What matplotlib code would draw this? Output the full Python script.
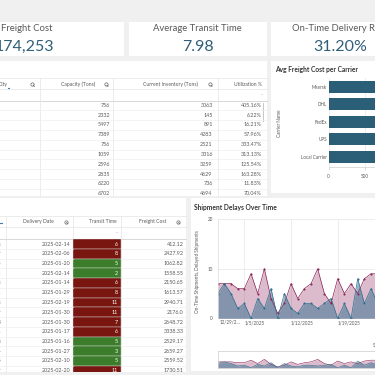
import matplotlib
matplotlib.use("Agg")
import matplotlib.pyplot as plt
import matplotlib.transforms as mtransforms
from matplotlib.patches import Rectangle
from matplotlib.lines import Line2D
import pandas as pd

plt.rcParams['font.family'] = ['Lato', 'DejaVu Sans']

# ---- data ----
kpi_titles = ['Total Freight Cost', 'Average Transit Time', 'On-Time Delivery Rate']
kpi_values = ['174,253', '7.98', '31.20%']

wh_capacity = [756, 2332, 5497, 7389, 756, 1059, 2596, 2835, 6220, 6702]
wh_inventory = [3063, 145, 891, 4283, 2521, 3316, 3259, 4629, 736, 4694]
wh_util = ['405.16%', '6.22%', '16.21%', '57.96%', '333.47%', '313.13%',
           '125.54%', '163.28%', '11.83%', '70.04%']

carriers = ['Maersk', 'DHL', 'FedEx', 'UPS', 'Local Carrier']
carrier_cost = [2010, 2080, 1990, 2050, 2020]
cost_ticks = [0, 500]

ship_ids = ['SHP1038', 'SHP1049', 'SHP1055', 'SHP1062', 'SHP1078', 'SHP1081', 'SHP1098',
            'SHP1109', 'SHP1113', 'SHP1121', 'SHP1138', 'SHP1144', 'SHP1155', 'SHP1169']
ship_dates = ['2025-02-14', '2025-02-06', '2025-01-20', '2025-02-14', '2025-01-14',
              '2025-01-29', '2025-02-19', '2025-01-30', '2025-01-30', '2025-01-17',
              '2025-01-16', '2025-01-27', '2025-02-10', '2025-02-20']
ship_transit = [6, 8, 5, 2, 6, 8, 11, 11, 7, 6, 5, 3, 5, 11]
ship_cost = ['412.12', '2427.92', '1062.82', '1558.55', '2150.65', '1613.57', '2940.71',
             '2176.0', '2648.72', '3338.33', '2529.17', '2659.27', '2559.52', '1730.51']

delay_dates = pd.date_range('2025-01-01', periods=25, freq='D')
delayed = [7, 7, 7, 6, 6, 9, 5, 10, 4, 1, 3, 7, 4, 6, 7, 10, 5, 3, 8, 5, 7, 5, 8, 9, 9]
on_time = [5, 7, 5, 2, 3, 0, 4, 2, 6, 0, 5, 2, 1, 3, 3, 2, 3, 4, 0, 3, 0, 8, 3, 6, 3]
date_ticks = ['2025-01-05', '2025-01-12', '2025-01-19']

# ---- layout helpers (pixel coords, 375x375) ----
W = 375.0
BG = '#f0f0f0'
TXT = '#5a5a5a'
LINE = '#e4e4e4'

fig = plt.figure(figsize=(3.75, 3.75), dpi=100, facecolor=BG)


def fx(x):
    return x / W


def fy(y):
    return 1 - y / W


def panel(x0, y0, x1, y1):
    fig.add_artist(Rectangle((fx(x0), fy(y1)), (x1 - x0) / W, (y1 - y0) / W,
                             transform=fig.transFigure, fc='white', ec='none', zorder=-5))


def hline(x0, x1, y, c=LINE, lw=0.5):
    fig.add_artist(Line2D([fx(x0), fx(x1)], [fy(y), fy(y)], color=c, lw=lw,
                          transform=fig.transFigure, zorder=-4))


def vline(x, y0, y1, c=LINE, lw=0.5):
    fig.add_artist(Line2D([fx(x), fx(x)], [fy(y0), fy(y1)], color=c, lw=lw,
                          transform=fig.transFigure, zorder=-4))


def search_icon(x, y):
    fig.add_artist(Line2D([fx(x)], [fy(y)], marker='o', ms=2.4, mfc='none', mec='#666',
                          mew=0.5, transform=fig.transFigure))
    fig.add_artist(Line2D([fx(x + 0.9), fx(x + 2.0)], [fy(y + 0.9), fy(y + 2.0)],
                          color='#666', lw=0.6, transform=fig.transFigure))


def px_axes(x0, y0, x1, y1):
    ax = fig.add_axes([fx(x0), fy(y1), (x1 - x0) / W, (y1 - y0) / W])
    ax.patch.set_alpha(0)
    return ax


# ---- KPI cards ----
panel(-100, 22, 124, 56)
panel(129, 22, 266.7, 56)
panel(271, 22, 440, 56)
fig.text(fx(52.7), fy(28.7), kpi_titles[0], ha='right', va='center', fontsize=6.8, color=TXT)
fig.text(fx(54.3), fy(46.7), kpi_values[0], ha='right', va='center', fontsize=11.5, color='#2f5e78')
for cx, t, v in [(197.8, kpi_titles[1], kpi_values[1]), (340, kpi_titles[2], kpi_values[2])]:
    fig.text(fx(cx), fy(28.7), t, ha='center', va='center', fontsize=6.8, color=TXT)
    fig.text(fx(cx), fy(46.7), v, ha='center', va='center', fontsize=11.5, color='#2f5e78')

# ---- warehouse table (top left) ----
panel(-5, 61, 266.7, 195.5)
hline(-5, 266.7, 78.3)
hline(-5, 266.7, 89.3)
hline(-5, 266.7, 100.6, c='#d8d8d8', lw=0.7)
for xv in [40, 113.3, 217.7]:
    vline(xv, 78.3, 195.5)
hdr_y = 84.3
fig.text(fx(8), fy(hdr_y), 'City', ha='right', va='center', fontsize=3.6, color=TXT)
fig.text(fx(95), fy(hdr_y), 'Capacity (Tons)', ha='right', va='center', fontsize=3.6, color=TXT)
fig.text(fx(197.7), fy(hdr_y), 'Current Inventory (Tons)', ha='right', va='center', fontsize=3.6, color=TXT)
fig.text(fx(262.3), fy(hdr_y), 'Utilization %', ha='right', va='center', fontsize=3.6, color=TXT)
fig.text(fx(262.3), fy(95), '-', ha='right', va='center', fontsize=3.6, color='#888')
for xv in [32.3, 106, 210]:
    search_icon(xv, hdr_y)
fig.add_artist(Line2D([fx(7.5), fx(9)], [fy(88), fy(88)], color='#3d7fb5', lw=0.8,
                      transform=fig.transFigure))

row_h, first_c = 9.83, 105.3
ax_t = px_axes(0, 100.6, 266.7, 195.5)
ax_t.set_xlim(0, 266.7)
ax_t.set_ylim((195.5 - first_c) / row_h, (100.6 - first_c) / row_h)
ax_t.axis('off')
for i in range(len(wh_capacity)):
    ax_t.text(110, i, str(wh_capacity[i]), ha='right', va='center', fontsize=3.9, color=TXT, clip_on=True)
    ax_t.text(212.7, i, str(wh_inventory[i]), ha='right', va='center', fontsize=3.9, color=TXT, clip_on=True)
    ax_t.text(261.7, i, wh_util[i], ha='right', va='center', fontsize=3.9, color=TXT, clip_on=True)
    ax_t.axhline(i + 0.5, color='#eeeeee', lw=0.5)
ax_t.add_patch(Rectangle((262.6, -0.25), 1.6, 1.9, fc='#c8c8c8', ec='none'))

# ---- avg freight cost per carrier ----
panel(271, 61, 440, 193)
fig.text(fx(275), fy(69.5), 'Avg Freight Cost per Carrier', ha='left', va='center',
         fontsize=4.8, fontweight='bold', color='#333333')
ax_b = px_axes(328.7, 78, 510.2, 167.3)
ax_b.barh(carriers, carrier_cost, height=0.68, color='#2b5f78')
ax_b.set_xlim(0, 2500)
ax_b.set_ylim(4.58, -0.49)
ax_b.set_xticks(cost_ticks)
ax_b.grid(axis='x', color='#e6e6e6', lw=0.5)
ax_b.set_axisbelow(True)
for s in ['top', 'right', 'left']:
    ax_b.spines[s].set_visible(False)
ax_b.spines['bottom'].set_color('#cfcfcf')
ax_b.spines['bottom'].set_linewidth(0.5)
ax_b.tick_params(axis='y', length=0, pad=1.4, labelsize=3.3, labelcolor=TXT)
ax_b.tick_params(axis='x', length=2.2, width=0.5, color='#cfcfcf', pad=2.5,
                 labelsize=3.3, labelcolor=TXT)
ax_b.set_ylabel('Carrier Name', fontsize=3.3, color=TXT)
ax_b.yaxis.set_label_coords((281.7 - 328.7) / 181.5, 0.49)

# ---- shipments table (bottom left) ----
panel(-5, 198.3, 186, 372)
hline(-5, 186, 215.7)
hline(-5, 186, 227)
hline(-5, 186, 238.5, c='#d8d8d8', lw=0.7)
for xv in [5.7, 73.3, 121]:
    vline(xv, 215.7, 372)
hdr2 = 221.7
fig.text(fx(54), fy(hdr2), 'Delivery Date', ha='right', va='center', fontsize=3.6, color=TXT)
fig.text(fx(117), fy(hdr2), 'Transit Time', ha='right', va='center', fontsize=3.6, color=TXT)
fig.text(fx(166.7), fy(hdr2), 'Freight Cost', ha='right', va='center', fontsize=3.6, color=TXT)
fig.text(fx(117.5), fy(233), '-', ha='right', va='center', fontsize=3.6, color='#888')
search_icon(65.7, hdr2)
search_icon(177.7, hdr2)
fig.add_artist(Line2D([fx(0), fx(1.5)], [fy(223), fy(223)], color='#3d7fb5', lw=0.8,
                      transform=fig.transFigure))

row_h2, first_c2 = 9.75, 244.0
ax_s = px_axes(0, 238.5, 186, 372)
ax_s.set_xlim(0, 186)
ax_s.set_ylim((372 - first_c2) / row_h2, (238.5 - first_c2) / row_h2)
ax_s.axis('off')
rows = range(len(ship_dates))
cell_colors = ['#3b7d2b' if t <= 5 else '#7a1610' for t in ship_transit]
ax_s.barh(list(rows), [121 - 73.3] * len(ship_transit), left=73.3, height=1.0,
          color=cell_colors, edgecolor='#d9d9d9', linewidth=0.3)
for i in rows:
    ax_s.text(1.8, i, ship_ids[i], ha='right', va='center', fontsize=3.9, color=TXT, clip_on=True)
    ax_s.text(70.3, i, ship_dates[i], ha='right', va='center', fontsize=3.9, color=TXT, clip_on=True)
    ax_s.text(117.7, i, str(ship_transit[i]), ha='right', va='center', fontsize=3.9,
              color='white', clip_on=True)
    ax_s.text(183.3, i, ship_cost[i], ha='right', va='center', fontsize=3.9, color=TXT, clip_on=True)
    ax_s.axhline(i + 0.5, xmin=0, xmax=73.3 / 186, color='#eeeeee', lw=0.5)
    ax_s.axhline(i + 0.5, xmin=121 / 186, xmax=1, color='#eeeeee', lw=0.5)

# ---- shipment delays over time ----
panel(190.7, 198.3, 440, 371)
fig.text(fx(194), fy(207.3), 'Shipment Delays Over Time', ha='left', va='center',
         fontsize=4.8, fontweight='bold', color='#333333')

PURPLE = '#8b2357'
BLUE = '#2e6e8e'
x_left = delay_dates[0]
x_right = delay_dates[0] + pd.Timedelta(days=30)

ax_l = px_axes(217.7, 219.3, 417.7, 318.3)
ax_l.fill_between(delay_dates, delayed, color=PURPLE, alpha=0.3, lw=0)
ax_l.plot(delay_dates, delayed, color=PURPLE, lw=0.5, marker='o', ms=1.5, mec='none')
ax_l.fill_between(delay_dates, on_time, color=BLUE, alpha=0.5, lw=0)
ax_l.plot(delay_dates, on_time, color=BLUE, lw=0.5, marker='o', ms=1.5, mec='none')
ax_l.set_xlim(x_left, x_right)
ax_l.set_ylim(0, 20)
ax_l.set_yticks([0, 10, 20])
tick_dates = pd.to_datetime(date_ticks)
ax_l.set_xticks(tick_dates)
ax_l.set_xticklabels([f'{d.month}/{d.day}/{d.year}' for d in tick_dates], ha='left')
offset = mtransforms.ScaledTranslation(2.4 / 100, 0, fig.dpi_scale_trans)
for lbl in ax_l.get_xticklabels():
    lbl.set_transform(lbl.get_transform() + offset)
ax_l.text(0.012, -0.04, '12/29/2...', transform=ax_l.transAxes, ha='left', va='center',
          fontsize=3.3, color=TXT)
ax_l.grid(color='#e6e6e6', lw=0.5)
ax_l.set_axisbelow(True)
for s in ['top', 'right', 'bottom']:
    ax_l.spines[s].set_visible(False)
ax_l.spines['left'].set_color('#dddddd')
ax_l.spines['left'].set_linewidth(0.5)
ax_l.tick_params(axis='y', length=0, pad=3.6, labelsize=3.3, labelcolor=TXT)
ax_l.tick_params(axis='x', length=0, pad=1.6, labelsize=3.3, labelcolor=TXT)
ax_l.set_ylabel('On-Time Shipments, Delayed Shipments', fontsize=3.3, color=TXT)
ax_l.yaxis.set_label_coords((200 - 217.7) / 200, 0.47)

fig.text(fx(372.7), fy(345.7), 'Shipment Date', ha='left', va='center', fontsize=3.3, color=TXT)

ax_m = px_axes(217.7, 351, 417.7, 367.7)
ax_m.fill_between(delay_dates, delayed, color=PURPLE, alpha=0.3, lw=0)
ax_m.plot(delay_dates, delayed, color=PURPLE, lw=0.4)
ax_m.fill_between(delay_dates, on_time, color=BLUE, alpha=0.5, lw=0)
ax_m.plot(delay_dates, on_time, color=BLUE, lw=0.4)
ax_m.set_xlim(x_left, x_right)
ax_m.set_ylim(0, 20)
ax_m.set_xticks([])
ax_m.set_yticks([])
for s in ax_m.spines.values():
    s.set_color('#cccccc')
    s.set_linewidth(0.5)

fig.savefig('out.png', dpi=100, facecolor=BG)
